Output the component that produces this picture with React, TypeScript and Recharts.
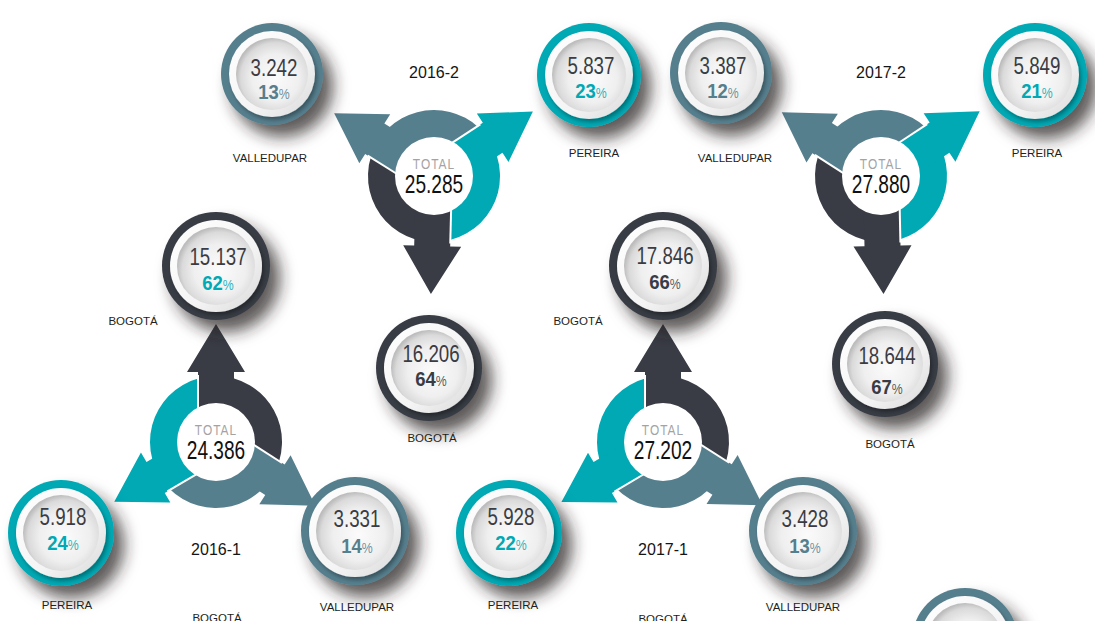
import React from 'react';
import { ScatterChart, Scatter, XAxis, YAxis } from 'recharts';

// ---------- DATA ----------
const periods = ['2016-1', '2016-2', '2017-1', '2017-2'];
const totals = [24386, 25285, 27202, 27880];
const cityNames = ['BOGOTÁ', 'PEREIRA', 'VALLEDUPAR'];
const bogotaValues = [15137, 16206, 17846, 18644];
const bogotaShares = [62, 64, 66, 67];
const pereiraValues = [5918, 5837, 5928, 5849];
const pereiraShares = [24, 23, 22, 21];
const valleduparValues = [3331, 3242, 3428, 3387];
const valleduparShares = [14, 13, 13, 12];

// ---------- STYLE / LAYOUT ----------
const W = 1095;
const H = 621;
const DARK = '#393c45';
const TEAL = '#00a9b4';
const SLATE = '#567f8e';
const FONT = '"Liberation Sans", Arial, sans-serif';
const cityColors = [DARK, TEAL, SLATE];

const groupLayout = [
  { x: 216, y: 442, titleY: 555 },
  { x: 434, y: 176, titleY: 78 },
  { x: 663, y: 442, titleY: 555 },
  { x: 881, y: 176, titleY: 78 },
];

type BL = { x: number; y: number; r: number; vy: number; py: number; lx: number; ly: number; pc?: string };
// order: BOGOTÁ, PEREIRA, VALLEDUPAR
const bubbleLayout: BL[][] = [
  [
    { x: 216, y: 266, r: 54, vy: 265, py: 290, lx: 133, ly: 325, pc: TEAL },
    { x: 61, y: 533, r: 53, vy: 525, py: 550, lx: 67, ly: 609 },
    { x: 355, y: 531, r: 54, vy: 527, py: 553, lx: 357, ly: 611 },
  ],
  [
    { x: 429, y: 368, r: 53, vy: 362, py: 386, lx: 432, ly: 442 },
    { x: 589, y: 75, r: 52, vy: 74, py: 98, lx: 594, ly: 157 },
    { x: 272, y: 74, r: 51, vy: 76, py: 99, lx: 270, ly: 162 },
  ],
  [
    { x: 663, y: 266, r: 54, vy: 264, py: 289, lx: 578, ly: 325 },
    { x: 509, y: 533, r: 53, vy: 525, py: 550, lx: 513, ly: 609 },
    { x: 803, y: 531, r: 54, vy: 527, py: 553, lx: 803, ly: 611 },
  ],
  [
    { x: 885, y: 364, r: 53, vy: 364, py: 394, lx: 890, ly: 448 },
    { x: 1035, y: 75, r: 52, vy: 74, py: 98, lx: 1037, ly: 157 },
    { x: 721, y: 73, r: 51, vy: 74, py: 98, lx: 735, ly: 162 },
  ],
];
const extraBubbles = [{ x: 965, y: 641, r: 53, color: SLATE }];
const extraLabels = [
  { x: 217, y: 622, text: cityNames[0] },
  { x: 663, y: 623, text: cityNames[0] },
];

const cityValues = [bogotaValues, pereiraValues, valleduparValues];
const cityShares = [bogotaShares, pereiraShares, valleduparShares];

const fmt = (n: number) => String(n).replace(/\B(?=(\d{3})+(?!\d))/g, '.');
const norm = (a: number) => ((a % 360) + 360) % 360;

const groupPoints = periods.map((period, i) => {
  const g = groupLayout[i];
  return {
    x: g.x,
    y: g.y,
    period,
    total: totals[i],
    arrows: bubbleLayout[i].map((b, k) => ({
      angle: norm((Math.atan2(-(b.y - g.y), b.x - g.x) * 180) / Math.PI),
      color: cityColors[k],
    })),
  };
});

const bubblePoints: any[] = [
  ...periods.flatMap((p, i) =>
    bubbleLayout[i].map((b, k) => ({
      x: b.x,
      y: b.y,
      r: b.r,
      value: fmt(cityValues[k][i]),
      share: cityShares[k][i],
      color: cityColors[k],
      pctColor: b.pc ?? cityColors[k],
      vy: b.vy - b.y,
      py: b.py - b.y,
    }))
  ),
  ...extraBubbles.map((b) => ({ ...b, value: null })),
];

const labelPoints: any[] = [
  ...periods.map((p, i) => ({ x: groupLayout[i].x, y: groupLayout[i].titleY, text: p, kind: 'title' })),
  ...periods.flatMap((p, i) =>
    bubbleLayout[i].map((b, k) => ({ x: b.lx, y: b.ly, text: cityNames[k], kind: 'city' }))
  ),
  ...extraLabels.map((l) => ({ ...l, kind: 'city' })),
];

// ---------- SHAPES ----------
const R_IN = 38;
const R_OUT = 66;
const SHAFT = 18;
const HEAD = 29;
const HEAD_BASE = 70;
const TIP = 118;

function GroupShape(props: any) {
  const { cx, cy, payload } = props;
  const rad = (a: number) => (a * Math.PI) / 180;
  const pt = (r: number, a: number) => [cx + r * Math.cos(rad(a)), cy - r * Math.sin(rad(a))];
  const arrows = [...payload.arrows].sort((a: any, b: any) => a.angle - b.angle);
  const n = arrows.length;
  const arcs = arrows.map((ar: any, i: number) => {
    const prev = arrows[(i - 1 + n) % n].angle;
    let a0 = prev;
    let a1 = ar.angle;
    if (a1 <= a0) a1 += 360;
    const large = a1 - a0 > 180 ? 1 : 0;
    const [x1, y1] = pt(R_OUT, a0);
    const [x2, y2] = pt(R_OUT, a1);
    const [x3, y3] = pt(R_IN, a1);
    const [x4, y4] = pt(R_IN, a0);
    const d = `M${x1},${y1} A${R_OUT},${R_OUT} 0 ${large} 0 ${x2},${y2} L${x3},${y3} A${R_IN},${R_IN} 0 ${large} 1 ${x4},${y4} Z`;
    return <path key={'a' + i} d={d} fill={ar.color} />;
  });
  const local = (a: number, u: number, v: number) => {
    const dx = Math.cos(rad(a));
    const dy = -Math.sin(rad(a));
    const px = -Math.sin(rad(a));
    const py = -Math.cos(rad(a));
    return [cx + u * dx + v * px, cy + u * dy + v * py];
  };
  const heads = arrows.map((ar: any, i: number) => {
    const a = ar.angle;
    const pts = [
      [28, -SHAFT],
      [HEAD_BASE, -SHAFT],
      [HEAD_BASE, -HEAD],
      [TIP, 0],
      [HEAD_BASE, HEAD],
      [HEAD_BASE, SHAFT],
      [28, SHAFT],
    ]
      .map(([u, v]) => local(a, u, v).join(','))
      .join(' ');
    return <polygon key={'h' + i} points={pts} fill={ar.color} />;
  });
  const seps = arrows.map((ar: any, i: number) => {
    const [x1, y1] = local(ar.angle, 30, SHAFT);
    const [x2, y2] = local(ar.angle, 67, SHAFT);
    return <line key={'s' + i} x1={x1} y1={y1} x2={x2} y2={y2} stroke="#fff" strokeWidth={2} />;
  });
  return (
    <g>
      {arcs}
      {heads}
      {seps}
      <circle cx={cx} cy={cy} r={R_IN + 1} fill="#fff" />
      <text
        transform={`translate(${cx},${cy - 7}) scale(0.85,1)`}
        textAnchor="middle"
        fontFamily={FONT}
        fontSize={14}
        letterSpacing={1.2}
        fill="#a3a3a3"
      >
        TOTAL
      </text>
      <text
        transform={`translate(${cx},${cy + 17}) scale(0.75,1)`}
        textAnchor="middle"
        fontFamily={FONT}
        fontSize={25.5}
        fill="#111"
      >
        {fmt(payload.total)}
      </text>
    </g>
  );
}

function BubbleShape(props: any) {
  const { cx, cy, payload } = props;
  const r = payload.r;
  return (
    <g>
      <circle cx={cx} cy={cy} r={r} fill={payload.color} filter="url(#bshadow)" />
      <circle cx={cx} cy={cy} r={r - 8} fill="url(#ringGrad)" filter="url(#wshadow)" />
      <circle cx={cx} cy={cy} r={r - 15} fill="url(#innerGrad)" />
      {payload.value && (
        <>
          <text
            transform={`translate(${cx + 2},${cy + payload.vy}) scale(0.78,1)`}
            textAnchor="middle"
            fontFamily={FONT}
            fontSize={24}
            fill="#3a3c44"
          >
            {payload.value}
          </text>
          <text
            transform={`translate(${cx + 2},${cy + payload.py}) scale(0.88,1)`}
            textAnchor="middle"
            fontFamily={FONT}
            fill={payload.pctColor}
          >
            <tspan fontSize={21} fontWeight={700}>
              {payload.share}
            </tspan>
            <tspan fontSize={14} fillOpacity={0.85}>
              %
            </tspan>
          </text>
        </>
      )}
    </g>
  );
}

function LabelShape(props: any) {
  const { cx, cy, payload } = props;
  const title = payload.kind === 'title';
  return (
    <text
      x={cx}
      y={cy}
      textAnchor="middle"
      fontFamily={FONT}
      fontSize={title ? 16 : 11.5}
      fill={title ? '#151515' : '#231f20'}
    >
      {payload.text}
    </text>
  );
}

function Defs() {
  return (
    <svg width={0} height={0} style={{ position: 'absolute' }}>
      <defs>
        <filter id="bshadow" x="-50%" y="-50%" width="230%" height="230%">
          <feDropShadow dx="10" dy="12" stdDeviation="8" floodColor="#2a2222" floodOpacity="0.75" />
        </filter>
        <filter id="wshadow" x="-30%" y="-30%" width="170%" height="170%">
          <feDropShadow dx="2" dy="3" stdDeviation="2" floodColor="#000" floodOpacity="0.35" />
        </filter>
        <linearGradient id="ringGrad" x1="0" y1="0" x2="1" y2="1">
          <stop offset="0%" stopColor="#ffffff" />
          <stop offset="60%" stopColor="#f4f4f4" />
          <stop offset="100%" stopColor="#d9d9d9" />
        </linearGradient>
        <radialGradient id="innerGrad" cx="55%" cy="55%" r="55%">
          <stop offset="0%" stopColor="#fbfbfb" />
          <stop offset="60%" stopColor="#efefef" />
          <stop offset="88%" stopColor="#dadada" />
          <stop offset="100%" stopColor="#bdbdbd" />
        </radialGradient>
      </defs>
    </svg>
  );
}

export default function App() {
  React.useEffect(() => {
    document.body.style.margin = '0';
  }, []);
  return (
    <div style={{ position: 'fixed', left: 0, top: 0, width: W, height: H, overflow: 'hidden', background: '#fff' }}>
      <Defs />
      <ScatterChart width={W} height={H} margin={{ top: 0, right: 0, bottom: 0, left: 0 }}>
        <XAxis type="number" dataKey="x" domain={[0, W]} allowDataOverflow hide />
        <YAxis type="number" dataKey="y" domain={[0, H]} allowDataOverflow reversed hide />
        <Scatter data={groupPoints} shape={(p: any) => <GroupShape {...p} />} isAnimationActive={false} />
        <Scatter data={bubblePoints} shape={(p: any) => <BubbleShape {...p} />} isAnimationActive={false} />
        <Scatter data={labelPoints} shape={(p: any) => <LabelShape {...p} />} isAnimationActive={false} />
      </ScatterChart>
    </div>
  );
}
